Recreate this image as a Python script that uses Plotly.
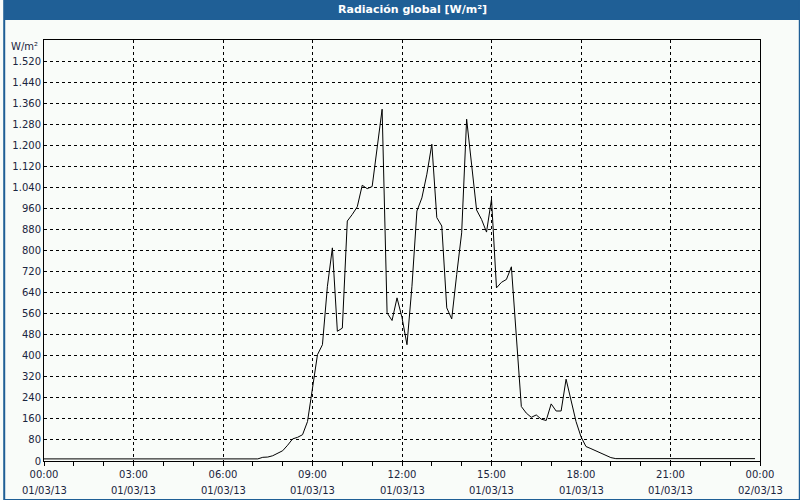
import plotly.graph_objects as go

# ---- data (10-minute radiation values, 01/03/13) ----
night = [8] * 44
radiation = night + [
    14, 15, 20, 28, 39, 60, 84, 90, 100, 150,
    283, 404, 442, 664, 810, 493, 505, 912, 937, 966,
    1048, 1035, 1043, 1190, 1337, 563, 534, 620, 545, 442,
    664, 950, 1000, 1090, 1204, 925, 893, 582, 540, 709,
    867, 1299, 1115, 954, 918, 870, 995, 658, 679, 690,
    738, 461, 207, 182, 166, 175, 159, 154, 217, 190,
    190, 311, 232, 150, 92, 55, 47, 39, 29, 20,
    13,
]
radiation = radiation + [9] * (144 - len(radiation))
hours = [i / 6 for i in range(144)]

x_tick_vals = [0, 3, 6, 9, 12, 15, 18, 21, 24]
x_tick_time = ["00:00", "03:00", "06:00", "09:00", "12:00", "15:00", "18:00", "21:00", "00:00"]
x_tick_date = ["01/03/13"] * 8 + ["02/03/13"]

y_tick_vals = list(range(0, 1521, 80))
y_tick_text = [f"{v:,}".replace(",", ".") for v in y_tick_vals]
y_unit = "W/m²"

title_text = "Radiación global [W/m²]"

# ---- layout geometry ----
W, H = 800, 500
ML, MR, MT, MB = 40, 40, 40, 39
PW, PH = W - ML - MR, H - MT - MB
BLUE = "#1f5f96"
BG = "#f9fcf9"
TXT = "#1a2540"
FONT = "DejaVu Sans"

fig = go.Figure()
fig.add_trace(go.Scatter(x=hours, y=radiation, mode="lines",
                         line=dict(color="black", width=1), hoverinfo="skip"))

shapes = [
    dict(type="rect", xref="paper", yref="paper",
         x0=-ML / PW, x1=1 + MR / PW, y0=1 + 20 / PH, y1=1 + MT / PH,
         fillcolor=BLUE, line=dict(width=0), layer="above"),
    dict(type="rect", xref="paper", yref="paper",
         x0=-ML / PW, x1=1 + MR / PW, y0=-MB / PH, y1=1 + MT / PH,
         fillcolor="rgba(0,0,0,0)", line=dict(color=BLUE, width=2), layer="above"),
]

annotations = [
    dict(text=f"<b>{title_text}</b>", xref="paper", yref="paper",
         x=(411 - ML) / PW, y=1 + 30 / PH, xanchor="center", yanchor="middle",
         showarrow=False, font=dict(family=FONT, size=11, color="white")),
    dict(text=y_unit, xref="paper", yref="paper", x=-4 / PW, y=1 - 6 / PH,
         xanchor="right", yanchor="middle", showarrow=False,
         font=dict(family=FONT, size=10, color=TXT)),
]
for xv, d in zip(x_tick_vals, x_tick_date):
    annotations.append(dict(text=d, x=xv, xref="x", yref="paper", y=-29 / PH,
                            xanchor="center", yanchor="middle", showarrow=False,
                            font=dict(family=FONT, size=10, color=TXT)))

fig.update_layout(
    width=W, height=H,
    margin=dict(l=ML, r=MR, t=MT, b=MB),
    paper_bgcolor=BG, plot_bgcolor=BG,
    showlegend=False,
    shapes=shapes, annotations=annotations,
    font=dict(family=FONT, size=10, color=TXT),
    xaxis=dict(range=[0, 24], tickvals=x_tick_vals, ticktext=x_tick_time,
               showgrid=True, gridcolor="black", gridwidth=1, griddash="3px,3px",
               showline=True, linecolor="black", linewidth=1, mirror=True,
               ticks="outside", ticklen=4, tickcolor="black",
               minor=dict(ticks="outside", ticklen=4, dtick=1, tick0=0,
                          tickcolor="black", showgrid=False),
               zeroline=False, fixedrange=True),
    yaxis=dict(range=[0, 1600], tickvals=y_tick_vals, ticktext=y_tick_text,
               showgrid=True, gridcolor="black", gridwidth=1, griddash="3px,3px",
               showline=True, linecolor="black", linewidth=1, mirror=True,
               ticks="", zeroline=False, fixedrange=True),
)

fig.write_html("out.html")
